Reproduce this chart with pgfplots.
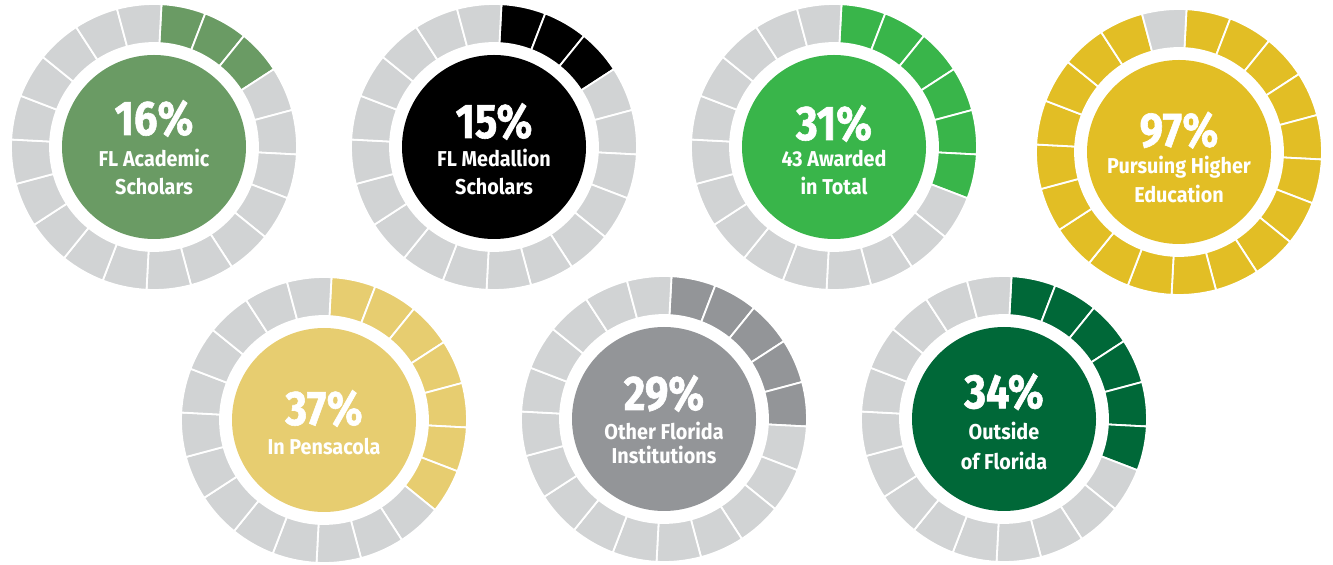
\documentclass[border=0pt]{standalone}
\usepackage{fontspec}
\setmainfont{Fira Sans}[FakeStretch=0.86]
\newfontfamily\pctfont{Fira Sans}[FakeStretch=0.86, BoldFeatures={FakeBold=1.2}]
\newfontfamily\labfont{Fira Sans}[FakeStretch=0.92]
\usepackage{pgfplots}
\pgfplotsset{compat=1.18}

\definecolor{ringgray}{HTML}{D1D3D4}
\definecolor{gacad}{RGB}{106,155,100}
\definecolor{gmed}{RGB}{0,0,0}
\definecolor{gaward}{RGB}{57,181,74}
\definecolor{ghigher}{RGB}{226,190,37}
\definecolor{gpens}{RGB}{231,205,112}
\definecolor{gother}{RGB}{147,149,152}
\definecolor{goutside}{RGB}{0,104,56}

% one gauge = 20 ring segments (18 deg each) + centre disc
% \gaugeN = filled segments (point meta), \gaugecol = colour name
\newcommand\gaugeN{0}
\newcommand\gaugecol{black}
\pgfdeclareplotmark{gauge}{%
  \foreach \seg in {0,...,19}{%
    \begin{pgfscope}
      \pgfmathsetmacro\aS{87-18*\seg}%
      \pgfmathsetmacro\aE{\aS-18}%
      \ifnum\seg<\gaugeN\relax\pgfsetfillcolor{\gaugecol}\else\pgfsetfillcolor{ringgray}\fi
      \pgfsetstrokecolor{white}%
      \pgfsetlinewidth{1.8bp}%
      \pgfpathmoveto{\pgfpointpolar{\aS}{104bp}}%
      \pgfpathlineto{\pgfpointpolar{\aS}{143bp}}%
      \pgfpatharc{\aS}{\aE}{143bp}%
      \pgfpathlineto{\pgfpointpolar{\aE}{104bp}}%
      \pgfpatharc{\aE}{\aS}{104bp}%
      \pgfpathclose
      \pgfusepath{fill,stroke}%
    \end{pgfscope}
  }%
  \begin{pgfscope}
    \pgfsetfillcolor{\gaugecol}%
    \pgfpathcircle{\pgfpointorigin}{92bp}%
    \pgfusepath{fill}%
  \end{pgfscope}
}

\pgfplotsset{
  gaugeplot/.style={scatter, only marks, mark=gauge,
    point meta=explicit symbolic,
    scatter/@pre marker code/.code={\edef\gaugeN{\pgfplotspointmeta}\def\gaugecol{#1}},
    scatter/@post marker code/.code={}},
}

\newcommand\pctstyle{\pctfont\fontsize{48.5bp}{48.5bp}\selectfont\bfseries}
\newcommand\labstyle{\labfont\fontsize{21.5bp}{21.5bp}\selectfont\bfseries}

\begin{document}
\begin{tikzpicture}
\begin{axis}[
  width=1333bp, height=565bp, scale only axis,
  xmin=0, xmax=1333, ymin=0, ymax=565,
  hide axis, clip=false,
]
% (centre x, centre y) [filled segments of 20]
\addplot[gaugeplot=gacad]    coordinates {(154,418) [3]};
\addplot[gaugeplot=gmed]     coordinates {(494,418) [3]};
\addplot[gaugeplot=gaward]   coordinates {(834,418) [6]};
\addplot[gaugeplot=ghigher]  coordinates {(1179,413) [19]};
\addplot[gaugeplot=gpens]    coordinates {(324,145) [7]};
\addplot[gaugeplot=gother]   coordinates {(664,146) [5]};
\addplot[gaugeplot=goutside] coordinates {(1004,146) [6]};

% text anchors (baselines), drawn after the axis so they sit above the marks
\coordinate (p1) at (axis cs:154,430);  \coordinate (a1) at (axis cs:154,398.3);  \coordinate (b1) at (axis cs:154,370);
\coordinate (p2) at (axis cs:494,427);  \coordinate (a2) at (axis cs:494,398.3);  \coordinate (b2) at (axis cs:494,370);
\coordinate (p3) at (axis cs:834,425);  \coordinate (a3) at (axis cs:834,398.3);  \coordinate (b3) at (axis cs:834,370);
\coordinate (p4) at (axis cs:1179,418.3); \coordinate (a4) at (axis cs:1179,391); \coordinate (b4) at (axis cs:1179,362.3);
\coordinate (p5) at (axis cs:324,140);  \coordinate (a5) at (axis cs:324,110);
\coordinate (p6) at (axis cs:664,155);  \coordinate (a6) at (axis cs:664,125);    \coordinate (b6) at (axis cs:664,101.7);
\coordinate (p7) at (axis cs:1004,156.7); \coordinate (a7) at (axis cs:1004,125); \coordinate (b7) at (axis cs:1004,95.7);
\end{axis}
\path (current axis.south west) (current axis.north east);

\begin{scope}[every node/.style={anchor=base, text=white, inner sep=0pt}]
\node[font=\pctstyle] at (p1) {16\%};
\node[font=\labstyle] at (a1) {FL Academic};
\node[font=\labstyle] at (b1) {Scholars};

\node[font=\pctstyle] at (p2) {15\%};
\node[font=\labstyle] at (a2) {FL Medallion};
\node[font=\labstyle] at (b2) {Scholars};

\node[font=\pctstyle] at (p3) {31\%};
\node[font=\labstyle] at (a3) {43 Awarded};
\node[font=\labstyle] at (b3) {in Total};

\node[font=\pctstyle] at (p4) {97\%};
\node[font=\labstyle] at (a4) {Pursuing Higher};
\node[font=\labstyle] at (b4) {Education};

\node[font=\pctstyle] at (p5) {37\%};
\node[font=\labstyle] at (a5) {In Pensacola};

\node[font=\pctstyle] at (p6) {29\%};
\node[font=\labstyle] at (a6) {Other Florida};
\node[font=\labstyle] at (b6) {Institutions};

\node[font=\pctstyle] at (p7) {34\%};
\node[font=\labstyle] at (a7) {Outside};
\node[font=\labstyle] at (b7) {of Florida};
\end{scope}
\end{tikzpicture}
\end{document}
